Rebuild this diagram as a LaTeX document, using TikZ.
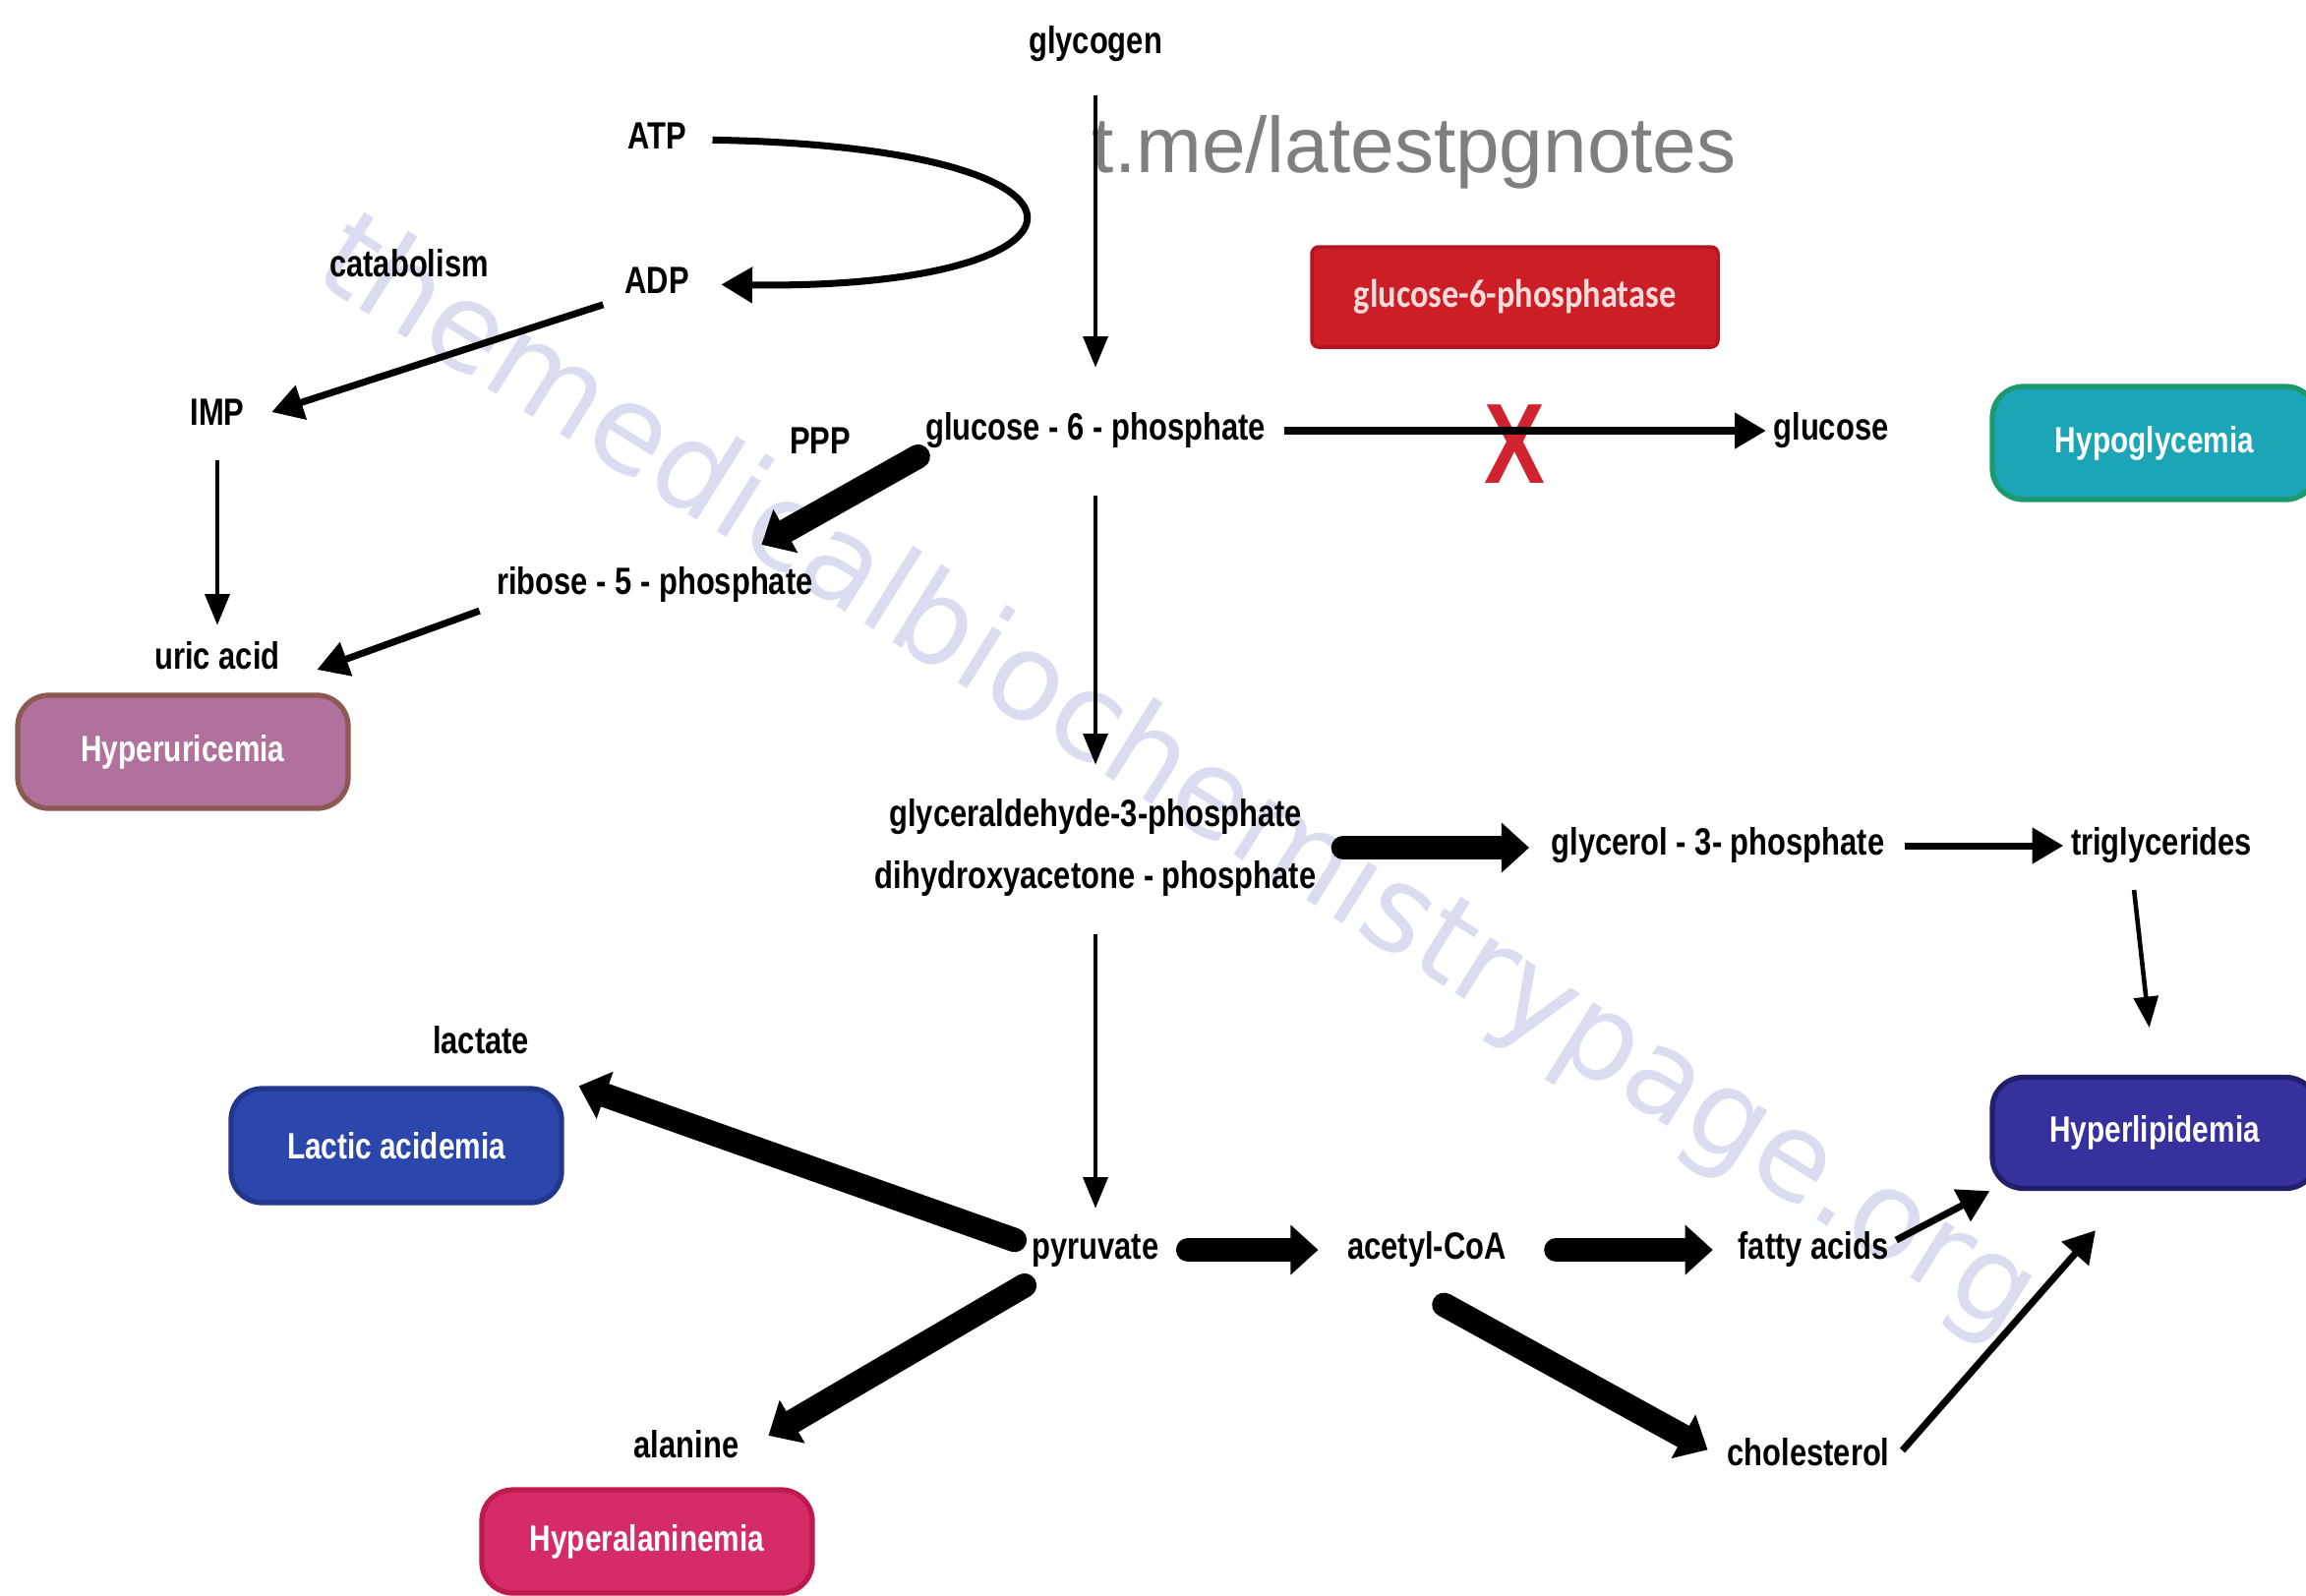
\documentclass[tikz,border=0pt]{standalone}
\usepackage{fontspec}
\setmainfont{Liberation Sans}
\newfontfamily\lblfont[FakeStretch=0.8]{Liberation Sans}
\newfontfamily\enzfont[FakeStretch=0.85]{Carlito}
\newfontfamily\wmfont{DejaVu Sans}
\usetikzlibrary{arrows.meta}

\definecolor{uricfill}{HTML}{B0729C}
\definecolor{uricedge}{HTML}{8C5A52}
\definecolor{lactfill}{HTML}{2B47AC}
\definecolor{lactedge}{HTML}{22378C}
\definecolor{alafill}{HTML}{D62B69}
\definecolor{alaedge}{HTML}{BE1A4C}
\definecolor{lipfill}{HTML}{37319E}
\definecolor{lipedge}{HTML}{221E6C}
\definecolor{glyfill}{HTML}{1BA5B6}
\definecolor{glyedge}{HTML}{1A9A6E}
\definecolor{enzfill}{HTML}{CC1E27}
\definecolor{enzedge}{HTML}{B3161E}
\definecolor{enztext}{HTML}{F8DCDC}
\definecolor{xred}{HTML}{D0232F}
\definecolor{wmcolor}{HTML}{DADCF0}
\definecolor{tmegray}{HTML}{7F7F7F}

\begin{document}
\begin{tikzpicture}[
  met/.style={font=\lblfont\bfseries\fontsize{11}{18}\selectfont,
              inner sep=2pt, text height=8pt, text depth=2.5pt},
  met2/.style={font=\lblfont\bfseries\fontsize{11}{18}\selectfont,
               inner sep=2pt, align=center},
  dis/.style={rectangle, rounded corners=9pt, line width=1.5pt, text=white,
              font=\lblfont\bfseries\fontsize{10.6}{12}\selectfont,
              minimum width=3.36cm, minimum height=1.15cm},
  enz/.style={rectangle, rounded corners=2pt, line width=1pt, fill=enzfill,
              draw=enzedge, text=enztext,
              font=\enzfont\bfseries\fontsize{11.5}{13}\selectfont,
              minimum width=4.13cm, minimum height=1.02cm},
  lnarr/.style={-{Triangle[length=9pt,width=7pt]}, line width=1.3pt},
  mdarr/.style={-{Triangle[length=9pt,width=10pt]}, line width=2pt},
  bigarr/.style={-{Triangle[length=8pt,width=14pt]}, line width=7pt, line cap=round},
]

\useasboundingbox (0,0) rectangle (23.45,-16.22);
\clip (0,0) rectangle (23.45,-16.22);
\fill[white] (0,0) rectangle (23.45,-16.22);

% Watermarks
\node[font=\wmfont\fontsize{35}{35}\selectfont, text=wmcolor, rotate=-32]
  (wmark) at (11.96,-7.93) {themedicalbiochemistrypage.org};
\node[font=\normalfont\fontsize{22.8}{23}\selectfont, text=tmegray, anchor=base west,
  inner sep=0pt] (tme) at (11.10,-1.75) {t.me/latestpgnotes};

% Metabolites
\node[met] (glycogen) at (11.14,-0.45)  {glycogen};
\node[met] (ATP)      at (6.68,-1.42)   {ATP};
\node[met] (ADP)      at (6.68,-2.89)   {ADP};
\node[met] (catab)    at (4.16,-2.72)   {catabolism};
\node[met] (IMP)      at (2.21,-4.23)   {IMP};
\node[met] (PPP)      at (8.34,-4.52)   {PPP};
\node[met] (g6p)      at (11.14,-4.38)  {glucose - 6 - phosphate};
\node[met] (glucose)  at (18.62,-4.38)  {glucose};
\node[met] (ribose)   at (6.66,-5.95)   {ribose - 5 - phosphate};
\node[met] (uric)     at (2.21,-6.71)   {uric acid};
\node[met2] (GAP)     at (11.14,-8.62)  {glyceraldehyde-3-phosphate\\dihydroxyacetone - phosphate};
\node[met] (G3P)      at (17.47,-8.60)  {glycerol - 3- phosphate};
\node[met] (TG)       at (21.98,-8.60)  {triglycerides};
\node[met] (lactate)  at (4.89,-10.62)  {lactate};
\node[met] (pyruvate) at (11.14,-12.71) {pyruvate};
\node[met] (AcCoA)    at (14.51,-12.71) {acetyl-CoA};
\node[met] (fatty)    at (18.44,-12.71) {fatty acids};
\node[met] (chol)     at (18.39,-14.81) {cholesterol};
\node[met] (alanine)  at (6.98,-14.73)  {alanine};

% Enzyme block
\node[enz] (G6Pase) at (15.405,-3.02) {glucose-6-phosphatase};
\node[font=\lblfont\bfseries\fontsize{33}{33}\selectfont, text=xred, inner sep=0pt]
  (block) at (15.40,-4.52) {X};

% Disorders
\node[dis, fill=glyfill, draw=glyedge, minimum width=3.30cm] (HG) at (21.91,-4.505) {Hypoglycemia};
\node[dis, fill=uricfill, draw=uricedge] (HU) at (1.86,-7.645) {Hyperuricemia};
\node[dis, fill=lipfill, draw=lipedge, minimum width=3.30cm, minimum height=1.13cm]
  (HL) at (21.91,-11.52) {Hyperlipidemia};
\node[dis, fill=lactfill, draw=lactedge, minimum height=1.16cm] (LA) at (4.03,-11.65) {Lactic acidemia};
\node[dis, fill=alafill, draw=alaedge, minimum height=1.05cm] (HA) at (6.58,-15.675) {Hyperalaninemia};

% Glycogen, ATP and purines
\draw[lnarr, shorten <=0.26cm, shorten >=0.38cm] (glycogen.south) -- (g6p.north);
\draw[mdarr, shorten <=0.19cm, shorten >=0.25cm]
  (ATP.east) .. controls (11.6,-1.5) and (11.3,-2.95) .. (ADP.east);
\draw[mdarr, shorten <=0.15cm] ([yshift=1mm]ADP.south west) -- ([xshift=2mm,yshift=0.4mm]IMP.east);
\draw[lnarr, shorten <=0.19cm, shorten >=0.09cm] (IMP.south) -- (uric.north);
\draw[bigarr] (g6p.south west) -- ([xshift=-6mm,yshift=1.5mm]ribose.north east);
\draw[mdarr] ([xshift=-1mm]ribose.south west) -- ([xshift=3mm,yshift=-1mm]uric.east);

% Glucose-6-phosphate branches
\draw[mdarr, shorten <=0.12cm] (g6p.east) -- (glucose.west);
\draw[lnarr, shorten <=0.4cm, shorten >=0.27cm] (g6p.south) -- (GAP.north);
\draw[bigarr, shorten <=0.2cm, shorten >=0.15cm] (GAP.east) -- (GAP.east -| G3P.west);
\draw[mdarr, shorten <=0.13cm] (G3P.east) -- (TG.west);
\draw[lnarr, shorten <=0.19cm, shorten >=0.48cm] ([xshift=-3mm]TG.south) -- (HL.north);
\draw[lnarr, shorten <=0.31cm, shorten >=0.16cm] (GAP.south) -- (pyruvate.north);

% Pyruvate branches
\draw[bigarr] ([xshift=-1mm,yshift=1mm]pyruvate.west) -- ([xshift=1.5mm]LA.north east);
\draw[bigarr, shorten >=0.26cm] ([yshift=-1mm]pyruvate.south west) -- (alanine.east);
\draw[bigarr, shorten <=0.22cm, shorten >=0.22cm] (pyruvate.east) -- (AcCoA.west);
\draw[bigarr, shorten <=0.43cm, shorten >=0.18cm] (AcCoA.east) -- (fatty.west);
\draw[bigarr, shorten <=0.2cm, shorten >=0.14cm] ([yshift=-2mm]AcCoA.south) -- (chol.west);
\draw[mdarr] ([yshift=1mm]fatty.east) -- (HL.south west);
\draw[mdarr, shorten <=0.08cm] (chol.east) -- ([xshift=-6mm,yshift=-4mm]HL.south);

\end{tikzpicture}
\end{document}
